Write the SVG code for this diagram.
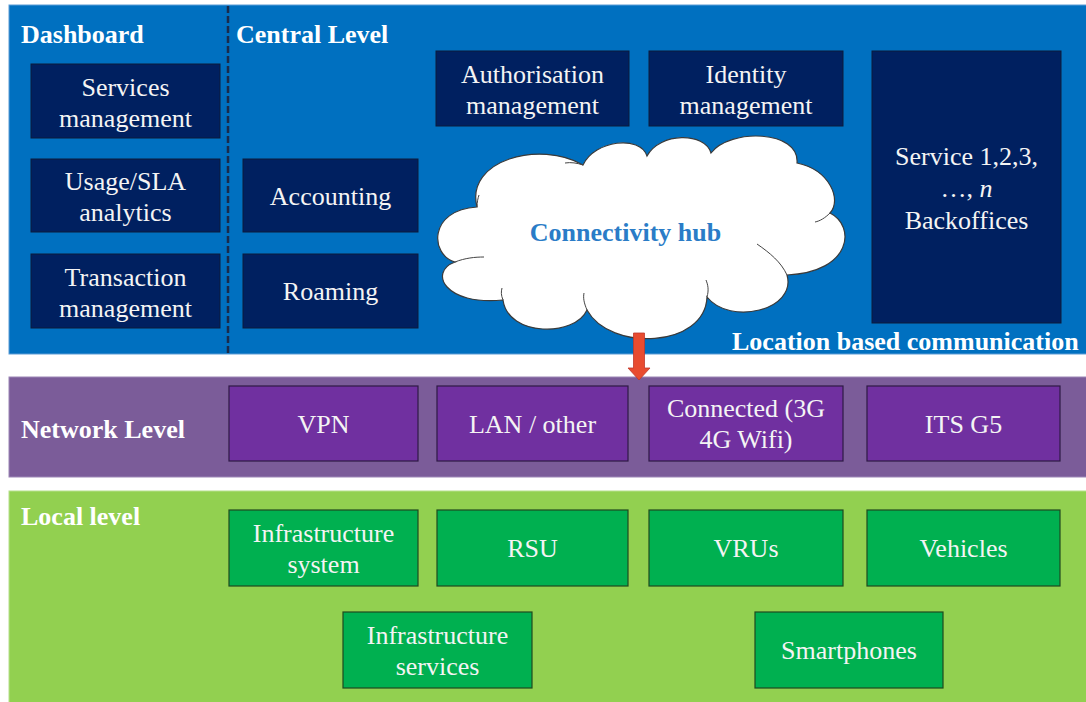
<svg xmlns="http://www.w3.org/2000/svg" width="1086" height="702" viewBox="0 0 1086 702">
<style>
text{font-family:'Liberation Serif','Times New Roman','DejaVu Serif',serif}
.hd{font-weight:bold;font-size:26px;fill:#ffffff}
.bt{font-size:26px;fill:#f4f4f4;text-anchor:middle}
.dk{fill:#002060;stroke:#0d1a3a;stroke-width:1}
.pu{fill:#7030a0;stroke:#2e1a45;stroke-width:1.2}
.gr{fill:#00b050;stroke:#1e4a1e;stroke-width:1.2}
.crease{fill:none;stroke:#444;stroke-width:1}
</style>
<rect x="0" y="0" width="1086" height="702" fill="#ffffff"/>
<g id="central-panel">
<rect x="9" y="5" width="1080" height="349" fill="#0070c0" stroke="#5b9bd5" stroke-width="1"/>
<line x1="228" y1="6" x2="228" y2="354" stroke="#1a2a4a" stroke-width="2.5" stroke-dasharray="7 3"/>
<text class="hd" x="21" y="43" font-family="Liberation Serif, serif">Dashboard</text>
<text class="hd" x="236" y="43" font-family="Liberation Serif, serif">Central Level</text>
<text class="hd" x="732" y="350" font-family="Liberation Serif, serif">Location based communication</text>
</g>
<g id="services-management"><rect class="dk" x="31" y="64" width="189" height="74"/><text class="bt" x="125.5" y="95.5">Services</text><text class="bt" x="125.5" y="126.5">management</text></g>
<g id="usage-sla"><rect class="dk" x="31" y="159" width="189" height="73"/><text class="bt" x="125.5" y="190">Usage/SLA</text><text class="bt" x="125.5" y="221">analytics</text></g>
<g id="transaction-management"><rect class="dk" x="31" y="254" width="189" height="74"/><text class="bt" x="125.5" y="285.5">Transaction</text><text class="bt" x="125.5" y="316.5">management</text></g>
<g id="accounting"><rect class="dk" x="243" y="159" width="175" height="73"/><text class="bt" x="330.5" y="205">Accounting</text></g>
<g id="roaming"><rect class="dk" x="243" y="254" width="175" height="74"/><text class="bt" x="330.5" y="300">Roaming</text></g>
<g id="authorisation-management"><rect class="dk" x="436" y="51" width="193" height="75"/><text class="bt" x="532.5" y="83">Authorisation</text><text class="bt" x="532.5" y="114">management</text></g>
<g id="identity-management"><rect class="dk" x="649" y="51" width="194" height="75"/><text class="bt" x="746" y="83">Identity</text><text class="bt" x="746" y="114">management</text></g>
<g id="service-backoffices"><rect class="dk" x="872" y="51" width="189" height="272"/><text class="bt" x="966.5" y="165">Service 1,2,3,</text><text class="bt" x="966.5" y="197">…, <tspan font-style="italic">n</tspan></text><text class="bt" x="966.5" y="229">Backoffices</text></g>
<g id="connectivity-hub">
<path d="M455,262 C430,255 428,210 477,207 C465,160 540,140 583,165 C595,140 640,135 647,156 C660,132 705,132 711,153 C730,128 800,130 797,163 C830,170 842,200 830,213 C856,226 852,272 787,275 C797,310 730,326 707,297 C705,348 610,352 587,310 C575,337 508,337 503,300 C445,306 428,272 455,262 Z" fill="#ffffff" stroke="#3a3a3a" stroke-width="1.2"/>
<path class="crease" d="M455,262 C465,258 475,257 484,257"/>
<path class="crease" d="M503,300 C501,295 501,292 502,288"/>
<path class="crease" d="M587,310 C584,303 583,298 584,293"/>
<path class="crease" d="M707,297 C709,290 708,285 706,280"/>
<path class="crease" d="M787,275 C781,262 770,253 757,244"/>
<path class="crease" d="M830,213 C825,218 820,221 815,222"/>
<path class="crease" d="M583,165 C577,163 571,162 565,163"/>
<path class="crease" d="M477,207 C477,202 478,198 479,195"/>
<text class="hd" x="625.5" y="241" text-anchor="middle" style="fill:#2a7cc7">Connectivity hub</text>
</g>
<g id="network-panel">
<rect x="9" y="377" width="1080" height="100" fill="#7b5c99" stroke="#9c86b6" stroke-width="1"/>
<text class="hd" x="21" y="438">Network Level</text>
</g>
<g id="vpn"><rect class="pu" x="229" y="386" width="189" height="75"/><text class="bt" x="323.5" y="433">VPN</text></g>
<g id="lan-other"><rect class="pu" x="437" y="386" width="191" height="75"/><text class="bt" x="532.5" y="433">LAN / other</text></g>
<g id="connected"><rect class="pu" x="649" y="386" width="194" height="75"/><text class="bt" x="746" y="417">Connected (3G</text><text class="bt" x="746" y="448">4G Wifi)</text></g>
<g id="its-g5"><rect class="pu" x="867" y="386" width="193" height="75"/><text class="bt" x="963.5" y="433">ITS G5</text></g>
<g id="local-panel">
<rect x="9" y="491" width="1080" height="215" fill="#92d050" stroke="#b5e08a" stroke-width="1"/>
<text class="hd" x="21" y="525">Local level</text>
</g>
<g id="infrastructure-system"><rect class="gr" x="229" y="510" width="189" height="76"/><text class="bt" x="323.5" y="542">Infrastructure</text><text class="bt" x="323.5" y="573">system</text></g>
<g id="rsu"><rect class="gr" x="437" y="510" width="191" height="76"/><text class="bt" x="532.5" y="557">RSU</text></g>
<g id="vrus"><rect class="gr" x="649" y="510" width="194" height="76"/><text class="bt" x="746" y="557">VRUs</text></g>
<g id="vehicles"><rect class="gr" x="867" y="510" width="193" height="76"/><text class="bt" x="963.5" y="557">Vehicles</text></g>
<g id="infrastructure-services"><rect class="gr" x="343" y="612" width="189" height="76"/><text class="bt" x="437.5" y="644">Infrastructure</text><text class="bt" x="437.5" y="675">services</text></g>
<g id="smartphones"><rect class="gr" x="755" y="612" width="188" height="76"/><text class="bt" x="849" y="659">Smartphones</text></g>
<g id="connectors">
<path d="M633.5,333 L644.5,333 L644.5,368 L650,368 L639,380 L628,368 L633.5,368 Z" fill="#e84c30" stroke="#c0392b" stroke-width="0.8"/>
</g>
</svg>
